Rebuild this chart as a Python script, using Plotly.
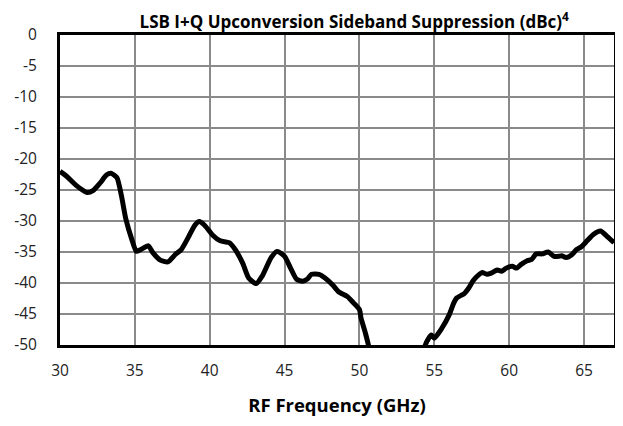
import plotly.graph_objects as go

# rf frequency (GHz) and sideband suppression (dBc)
freq_low = [30.0, 30.4, 31.1, 31.8, 32.2, 32.7, 33.1, 33.4, 33.8, 34.1, 34.4, 34.8,
            35.1, 35.4, 35.9, 36.2, 36.7, 37.2, 37.7, 38.1, 38.6, 39.0, 39.3, 39.7,
            40.2, 40.7, 41.3, 41.7, 42.2, 42.6, 43.1, 43.5, 44.1, 44.5, 45.0, 45.4,
            45.8, 46.2, 46.5, 46.8, 47.3, 47.7, 48.2, 48.6, 49.2, 49.6, 50.0, 50.1,
            50.4, 50.6, 50.8]
supp_low = [-22.0, -22.7, -24.3, -25.4, -25.1, -23.8, -22.6, -22.3, -23.0, -25.9, -29.7, -33.0,
            -34.9, -34.6, -34.0, -35.1, -36.3, -36.6, -35.4, -34.6, -32.5, -30.7, -30.1, -30.8,
            -32.3, -33.2, -33.5, -34.6, -36.8, -39.2, -40.1, -38.9, -35.9, -34.9, -35.7, -37.6,
            -39.4, -39.7, -39.4, -38.6, -38.6, -39.2, -40.3, -41.4, -42.2, -43.2, -44.3, -45.6,
            -48.1, -50.0, -52.0]

freq_high = [54.2, 54.4, 54.6, 54.8, 55.0, 55.5, 56.0, 56.3, 56.5, 57.0, 57.3, 57.6,
             58.0, 58.2, 58.5, 58.8, 59.2, 59.5, 59.8, 60.2, 60.5, 60.8, 61.2, 61.5,
             61.8, 62.2, 62.6, 63.0, 63.3, 63.5, 63.8, 64.2, 64.5, 64.8, 65.2, 65.6,
             66.1, 66.5, 67.0]
supp_high = [-52.0, -50.0, -49.0, -48.4, -48.9, -47.3, -45.1, -43.2, -42.4, -41.7, -40.8, -39.6,
             -38.6, -38.3, -38.6, -38.4, -37.9, -38.1, -37.6, -37.3, -37.6, -37.0, -36.4, -36.2,
             -35.3, -35.3, -35.0, -35.7, -35.7, -35.6, -35.9, -35.4, -34.6, -34.2, -33.2, -32.2,
             -31.6, -32.4, -33.5]

x_ticks = [30, 35, 40, 45, 50, 55, 60, 65]
y_ticks = [0, -5, -10, -15, -20, -25, -30, -35, -40, -45, -50]
y_labels = ['0', '-5', '-10', '-15', '-20', '-25', '-30', '-35', '-40', '-45', '-50']

freq = freq_low + [None] + freq_high
supp = supp_low + [None] + supp_high

fig = go.Figure()
fig.add_trace(go.Scatter(x=freq, y=supp, mode='lines',
                         line=dict(color='black', width=5, shape='spline', smoothing=0.6),
                         connectgaps=False, showlegend=False))

# page body adds an 8px margin, so the figure is 8px smaller than the window
font = 'Open Sans, Calibri, sans-serif'
fig.update_layout(
    width=615, height=418,
    margin=dict(l=52, r=6, t=27, b=81),
    plot_bgcolor='white', paper_bgcolor='white',
    font=dict(family=font, size=15.5, color='#222'),
    title=dict(text='<b>LSB I+Q Upconversion Sideband Suppression (dBc)<sup>4</sup></b>',
               x=0.563, xanchor='center', y=0.966, yanchor='middle',
               font=dict(size=17, color='black')),
)
fig.update_xaxes(range=[30, 67], tickvals=x_ticks, ticks='', ticklabelstandoff=9,
                 showgrid=True, gridcolor='#8a8a8a', gridwidth=2,
                 showline=True, linecolor='black', linewidth=3, mirror=True,
                 zeroline=False,
                 title=dict(text='<b>RF Frequency (GHz)</b>', font=dict(size=18.5, color='black'),
                            standoff=20))
fig.update_yaxes(range=[-50, 0], tickvals=y_ticks, ticktext=y_labels, ticks='',
                 ticklabelstandoff=17,
                 showgrid=True, gridcolor='#8a8a8a', gridwidth=2,
                 showline=True, linecolor='black', linewidth=3, mirror=True,
                 zeroline=False)

fig.write_html("out.html")
